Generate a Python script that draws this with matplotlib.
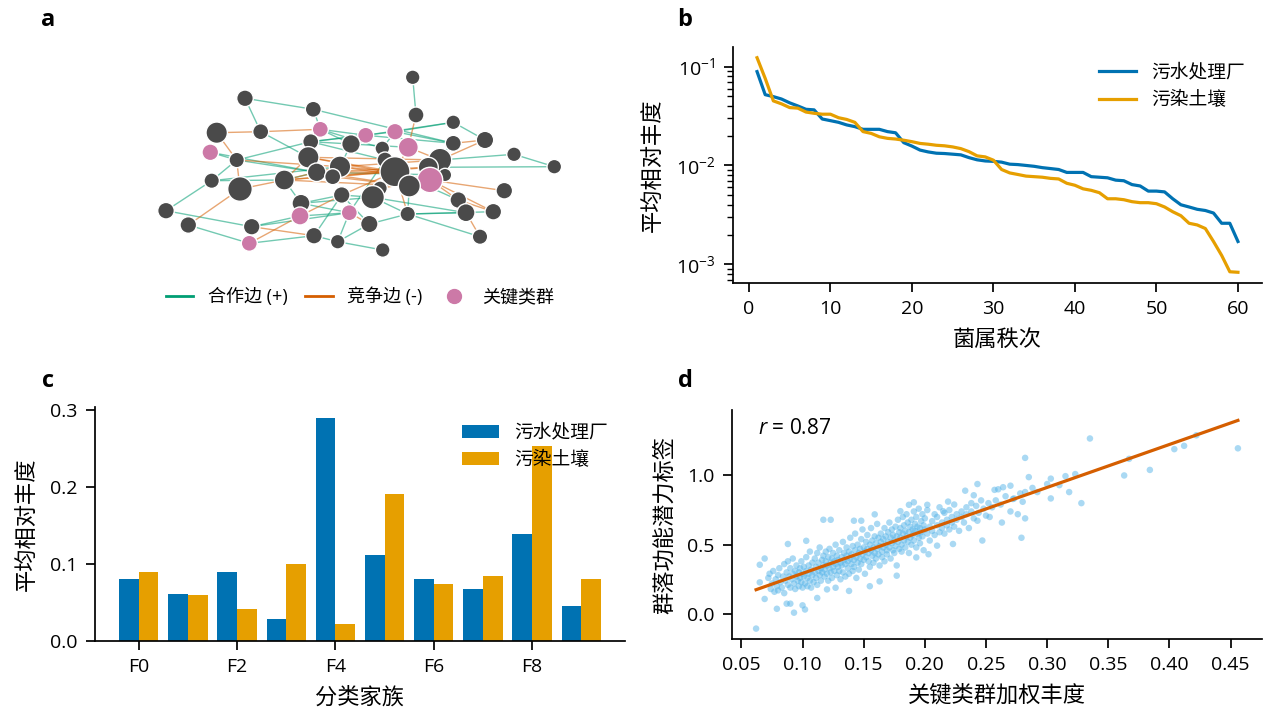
import numpy as np
import matplotlib
matplotlib.use("Agg")
import matplotlib.pyplot as plt
from matplotlib.lines import Line2D

plt.rcParams['font.family'] = ['Open Sans', 'Noto Sans CJK SC', 'DejaVu Sans']
plt.rcParams['axes.unicode_minus'] = True
plt.rcParams['mathtext.fontset'] = 'custom'
plt.rcParams['mathtext.rm'] = 'Open Sans'
plt.rcParams['mathtext.it'] = 'Open Sans:italic'
plt.rcParams['font.size'] = 14
plt.rcParams['axes.linewidth'] = 1.25
plt.rcParams['axes.labelpad'] = 8
for a in ('xtick', 'ytick'):
    plt.rcParams[a + '.major.size'] = 6.5
    plt.rcParams[a + '.major.width'] = 1.25
    plt.rcParams[a + '.minor.size'] = 4
    plt.rcParams[a + '.minor.width'] = 1.0
    plt.rcParams[a + '.major.pad'] = 6
    plt.rcParams[a + '.labelsize'] = 14

BLUE = '#0072B2'
ORANGE = '#E69F00'
SKY = '#56B4E9'
VERM = '#D55E00'
GREEN = '#009E73'
PINK = '#CC79A7'
DARK = '#4a4a4a'

# ---------------- panel a: network ----------------
node_x = [412.7, 245, 313.3, 416, 453.3, 216.7, 260.7, 320.3, 365.7, 395, 485, 210.3, 310.7, 351,
          382.3, 408.3, 453.3, 514, 554.3, 236.7, 308.3, 340, 385, 316.7, 332.7, 395, 440, 428.3,
          445, 430, 211.7, 240, 284.3, 409.3, 380, 372.7, 341.7, 504.3, 458.3, 166, 301, 300,
          349.3, 466, 493.3, 407.7, 188.3, 251.7, 369.3, 314, 480, 249.3, 337.7, 382.7]
node_y = [77.3, 98.3, 109.3, 115, 122.3, 132.7, 131.7, 129.3, 135.3, 131.7, 140, 152.3, 141.7, 144,
          148.3, 147.3, 143.3, 154.3, 166.7, 160, 157.3, 166.7, 160, 172.3, 176.7, 171.7, 160, 167.3,
          175, 180, 180.7, 189, 180, 186, 188.3, 197.3, 195, 190.7, 200, 210.7, 203.3, 216,
          212.7, 212.7, 211.7, 214, 225, 226.7, 224, 235.7, 236.7, 243.3, 241.7, 250]
node_r = [7.3, 8.3, 8, 8, 7.3, 10.7, 8, 8, 8, 8.3, 8.7, 8.3, 8, 9.3, 7.3, 10, 8, 7.3, 7.3, 7.7,
          10.7, 10.7, 8, 9.3, 8, 15, 11.7, 10, 6.7, 12.7, 7.7, 12.3, 10, 11, 7.3, 11.7, 8.3, 8.3,
          8.3, 8.3, 9, 9, 8, 9, 8.3, 7.7, 8.3, 8.3, 8.7, 8.3, 7.7, 8, 7.3, 7.3]
key_nodes = [8, 9, 10, 12, 16, 30, 42, 43, 52]
coop_edges = [(1, 4), (2, 3), (2, 7), (3, 17), (5, 10), (5, 11), (5, 9), (10, 17), (18, 19), (18, 27),
              (19, 28), (12, 20), (7, 21), (20, 31), (20, 13), (20, 24), (31, 33), (31, 40), (33, 41),
              (40, 48), (47, 52), (48, 42), (48, 43), (52, 50), (50, 53), (50, 37), (53, 43), (53, 49),
              (53, 54), (49, 46), (46, 44), (46, 45), (46, 51), (46, 36), (41, 37), (41, 36), (37, 36),
              (43, 23), (13, 9), (13, 14), (13, 10), (8, 9), (8, 14), (14, 16), (15, 23), (35, 36),
              (12, 24), (8, 15), (9, 17), (10, 15), (22, 14), (24, 29), (21, 8), (34, 46), (36, 44),
              (26, 39), (41, 43), (42, 43), (29, 27), (28, 17), (23, 13), (33, 24), (31, 22), (37, 49),
              (3, 8)]
comp_edges = [(4, 16), (27, 11), (6, 7), (7, 8), (6, 20), (20, 32), (20, 22), (32, 47), (32, 33),
              (33, 22), (33, 26), (33, 21), (52, 42), (48, 50), (44, 51), (39, 45), (30, 38), (30, 39),
              (30, 45), (42, 37), (49, 43), (16, 26), (16, 27), (22, 26), (24, 26), (21, 26), (21, 30),
              (34, 30), (24, 28), (22, 30), (25, 34), (33, 28), (22, 27), (24, 34), (37, 26), (46, 26),
              (33, 34), (21, 27), (25, 26), (35, 30), (17, 11)]
legend_a = ['合作边 (+)', '竞争边 (-)', '关键类群']

# ---------------- panel b: rank abundance ----------------
rank = list(range(1, 61))
rank_wwtp = [0.089, 0.052, 0.0497, 0.047, 0.043, 0.040, 0.037, 0.0365, 0.0295, 0.0284,
             0.0273, 0.0257, 0.0247, 0.0232, 0.0232, 0.0232, 0.022, 0.0214, 0.017, 0.0157,
             0.0143, 0.0137, 0.0133, 0.0132, 0.013, 0.0128, 0.012, 0.0114, 0.0111, 0.011,
             0.0108, 0.0103, 0.0102, 0.010, 0.0098, 0.0095, 0.0093, 0.0091, 0.0085, 0.0085,
             0.0085, 0.0077, 0.0076, 0.0075, 0.0071, 0.0070, 0.0064, 0.0062, 0.0055, 0.0055,
             0.0054, 0.0046, 0.0040, 0.0038, 0.0036, 0.0035, 0.0033, 0.0026, 0.0026, 0.0017]
rank_soil = [0.123, 0.076, 0.045, 0.042, 0.0385, 0.038, 0.0347, 0.0337, 0.033, 0.033,
             0.0304, 0.0292, 0.0273, 0.022, 0.0211, 0.0195, 0.0188, 0.0185, 0.018, 0.0174,
             0.0167, 0.0164, 0.016, 0.0158, 0.0154, 0.0148, 0.0138, 0.0125, 0.0122, 0.0113,
             0.0091, 0.0084, 0.0081, 0.0078, 0.0077, 0.0076, 0.0074, 0.0073, 0.0066, 0.0063,
             0.0058, 0.0056, 0.0053, 0.0046, 0.0046, 0.0045, 0.0043, 0.0042, 0.0042, 0.0041,
             0.0038, 0.0034, 0.0031, 0.0026, 0.0025, 0.0023, 0.0017, 0.00123, 0.00084, 0.00083]
series_names = ['污水处理厂', '污染土壤']

# ---------------- panel c: family bars ----------------
families = ['F0', 'F1', 'F2', 'F3', 'F4', 'F5', 'F6', 'F7', 'F8', 'F9']
fam_wwtp = [0.081, 0.061, 0.090, 0.029, 0.289, 0.111, 0.080, 0.067, 0.139, 0.046]
fam_soil = [0.089, 0.060, 0.042, 0.100, 0.022, 0.190, 0.074, 0.084, 0.253, 0.080]

# ---------------- panel d: scatter ----------------
pts = [
    # outliers / sparse region
    (0.062, -0.106), (0.335, 1.267), (0.456, 1.196), (0.422, 1.29), (0.412, 1.214), (0.404, 1.19),
    (0.384, 1.04), (0.363, 1.0), (0.367, 1.12), (0.328, 0.80), (0.318, 0.88), (0.323, 1.01),
    (0.315, 0.995), (0.303, 0.977), (0.303, 0.834), (0.300, 0.938), (0.310, 0.93), (0.282, 1.127),
    (0.285, 0.988), (0.279, 0.55), (0.282, 0.69), (0.276, 0.72), (0.270, 0.74), (0.263, 0.66),
    (0.270, 0.926), (0.264, 0.915), (0.260, 0.90), (0.257, 0.896), (0.253, 0.70), (0.247, 0.53),
    (0.243, 0.938), (0.233, 0.89), (0.240, 0.857), (0.223, 0.505), (0.243, 0.673), (0.282, 0.88),
    (0.292, 0.88), (0.273, 0.834), (0.280, 0.81),
    (0.065, 0.355), (0.069, 0.40), (0.065, 0.228), (0.069, 0.108), (0.073, 0.29), (0.079, 0.037),
    (0.087, 0.074), (0.093, 0.009), (0.090, 0.074), (0.100, 0.062), (0.102, 0.032), (0.112, 0.115),
    (0.088, 0.505), (0.103, 0.528), (0.117, 0.68), (0.123, 0.68), (0.142, 0.673), (0.148, 0.673),
    (0.159, 0.719), (0.138, 0.166), (0.155, 0.20), (0.163, 0.235), (0.177, 0.276), (0.120, 0.177),
    (0.127, 0.189), (0.180, 0.742), (0.187, 0.788), (0.191, 0.806), (0.202, 0.788), (0.193, 0.408),
    (0.203, 0.431), (0.210, 0.493), (0.219, 0.811), (0.215, 0.742),
    # x 0.07-0.085
    (0.072, 0.26), (0.074, 0.18), (0.075, 0.22), (0.076, 0.31), (0.077, 0.16), (0.078, 0.25),
    (0.079, 0.20), (0.080, 0.28), (0.080, 0.17), (0.081, 0.33), (0.082, 0.23), (0.083, 0.19),
    (0.084, 0.27), (0.085, 0.36), (0.085, 0.15),
    # x 0.085-0.11
    (0.086, 0.24), (0.087, 0.30), (0.088, 0.21), (0.088, 0.38), (0.089, 0.27), (0.090, 0.33),
    (0.090, 0.19), (0.091, 0.25), (0.092, 0.29), (0.092, 0.40), (0.093, 0.22), (0.094, 0.31),
    (0.094, 0.18), (0.095, 0.27), (0.095, 0.35), (0.096, 0.24), (0.097, 0.30), (0.097, 0.20),
    (0.098, 0.33), (0.098, 0.26), (0.099, 0.38), (0.099, 0.23), (0.100, 0.29), (0.100, 0.19),
    (0.101, 0.34), (0.101, 0.27), (0.102, 0.22), (0.103, 0.31), (0.103, 0.41), (0.104, 0.26),
    (0.104, 0.20), (0.105, 0.35), (0.105, 0.29), (0.106, 0.24), (0.106, 0.45), (0.107, 0.32),
    (0.107, 0.19), (0.108, 0.28), (0.108, 0.37), (0.109, 0.23),
    # x 0.11-0.145
    (0.110, 0.30), (0.110, 0.40), (0.111, 0.26), (0.111, 0.34), (0.112, 0.21), (0.112, 0.44),
    (0.113, 0.31), (0.113, 0.37), (0.114, 0.28), (0.114, 0.48), (0.115, 0.33), (0.115, 0.24),
    (0.116, 0.39), (0.116, 0.30), (0.117, 0.35), (0.117, 0.42), (0.118, 0.27), (0.118, 0.32),
    (0.119, 0.45), (0.119, 0.38), (0.120, 0.29), (0.120, 0.35), (0.121, 0.41), (0.121, 0.24),
    (0.122, 0.33), (0.122, 0.47), (0.123, 0.37), (0.123, 0.30), (0.124, 0.40), (0.124, 0.26),
    (0.125, 0.34), (0.125, 0.44), (0.126, 0.38), (0.126, 0.31), (0.127, 0.50), (0.127, 0.36),
    (0.128, 0.28), (0.128, 0.42), (0.129, 0.34), (0.129, 0.39), (0.130, 0.46), (0.130, 0.31),
    (0.131, 0.37), (0.131, 0.25), (0.132, 0.41), (0.132, 0.35), (0.133, 0.52), (0.133, 0.30),
    (0.134, 0.39), (0.134, 0.44), (0.135, 0.36), (0.135, 0.27), (0.136, 0.42), (0.136, 0.48),
    (0.137, 0.33), (0.137, 0.38), (0.138, 0.45), (0.138, 0.29), (0.139, 0.40), (0.139, 0.55),
    (0.140, 0.36), (0.140, 0.43), (0.141, 0.31), (0.141, 0.49), (0.142, 0.39), (0.142, 0.34),
    (0.143, 0.46), (0.143, 0.58), (0.144, 0.41), (0.144, 0.26),
    # x 0.145-0.18
    (0.145, 0.37), (0.145, 0.50), (0.146, 0.44), (0.146, 0.32), (0.147, 0.47), (0.147, 0.40),
    (0.148, 0.54), (0.148, 0.36), (0.149, 0.43), (0.149, 0.61), (0.150, 0.39), (0.150, 0.48),
    (0.151, 0.45), (0.151, 0.29), (0.152, 0.52), (0.152, 0.41), (0.153, 0.47), (0.153, 0.57),
    (0.154, 0.38), (0.154, 0.44), (0.155, 0.50), (0.155, 0.34), (0.156, 0.46), (0.156, 0.62),
    (0.157, 0.42), (0.157, 0.53), (0.158, 0.48), (0.158, 0.37), (0.159, 0.56), (0.159, 0.44),
    (0.160, 0.51), (0.160, 0.40), (0.161, 0.47), (0.161, 0.65), (0.162, 0.43), (0.162, 0.55),
    (0.163, 0.49), (0.163, 0.35), (0.164, 0.52), (0.164, 0.58), (0.165, 0.45), (0.165, 0.41),
    (0.166, 0.54), (0.166, 0.48), (0.167, 0.62), (0.167, 0.38), (0.168, 0.50), (0.168, 0.56),
    (0.169, 0.46), (0.169, 0.43), (0.170, 0.59), (0.170, 0.52), (0.171, 0.48), (0.171, 0.66),
    (0.172, 0.40), (0.172, 0.55), (0.173, 0.51), (0.173, 0.61), (0.174, 0.46), (0.174, 0.57),
    (0.175, 0.53), (0.175, 0.44), (0.176, 0.63), (0.176, 0.49), (0.177, 0.56), (0.177, 0.35),
    (0.178, 0.52), (0.178, 0.68), (0.179, 0.47), (0.179, 0.59),
    # x 0.18-0.21
    (0.180, 0.55), (0.180, 0.62), (0.181, 0.50), (0.181, 0.45), (0.182, 0.58), (0.182, 0.70),
    (0.183, 0.53), (0.183, 0.64), (0.184, 0.48), (0.184, 0.60), (0.185, 0.56), (0.185, 0.72),
    (0.186, 0.52), (0.186, 0.66), (0.187, 0.59), (0.187, 0.44), (0.188, 0.63), (0.188, 0.55),
    (0.189, 0.68), (0.189, 0.50), (0.190, 0.61), (0.190, 0.57), (0.191, 0.74), (0.191, 0.53),
    (0.192, 0.65), (0.192, 0.60), (0.193, 0.48), (0.193, 0.70), (0.194, 0.58), (0.194, 0.63),
    (0.195, 0.55), (0.195, 0.76), (0.196, 0.62), (0.196, 0.51), (0.197, 0.67), (0.197, 0.59),
    (0.198, 0.72), (0.198, 0.56), (0.199, 0.64), (0.199, 0.46), (0.200, 0.61), (0.200, 0.69),
    (0.202, 0.58), (0.202, 0.75), (0.204, 0.63), (0.204, 0.53), (0.206, 0.67), (0.206, 0.60),
    (0.208, 0.72), (0.208, 0.57),
    # x 0.21-0.26
    (0.210, 0.64), (0.210, 0.70), (0.212, 0.59), (0.212, 0.77), (0.214, 0.66), (0.214, 0.62),
    (0.216, 0.73), (0.216, 0.58), (0.218, 0.68), (0.218, 0.64), (0.220, 0.75), (0.220, 0.61),
    (0.222, 0.70), (0.222, 0.66), (0.224, 0.79), (0.224, 0.63), (0.226, 0.72), (0.226, 0.68),
    (0.228, 0.60), (0.230, 0.74), (0.230, 0.70), (0.232, 0.66), (0.234, 0.77), (0.234, 0.72),
    (0.236, 0.62), (0.238, 0.80), (0.238, 0.74), (0.240, 0.69), (0.242, 0.78), (0.244, 0.73),
    (0.246, 0.82), (0.248, 0.76), (0.250, 0.71), (0.252, 0.80), (0.255, 0.77),
    (0.258, 0.82), (0.262, 0.79), (0.266, 0.85), (0.272, 0.83), (0.278, 0.87), (0.288, 0.91),
]
key_abund = [p[0] for p in pts]
func_score = [p[1] for p in pts]

# ================= figure =================
W, H = 1280, 719
fig = plt.figure(figsize=(W / 100, H / 100), dpi=100)


def box(l, r, t, b):
    return [l / W, 1 - b / H, (r - l) / W, (b - t) / H]


# ---- a ----
ax_a = fig.add_axes(box(140, 580, 60, 260))
ax_a.set_xlim(140, 580)
ax_a.set_ylim(260, 60)
ax_a.axis('off')
for (i, j) in coop_edges:
    ax_a.plot([node_x[i - 1], node_x[j - 1]], [node_y[i - 1], node_y[j - 1]],
              color=GREEN, lw=1.0, alpha=0.55, zorder=1, solid_capstyle='round')
for (i, j) in comp_edges:
    ax_a.plot([node_x[i - 1], node_x[j - 1]], [node_y[i - 1], node_y[j - 1]],
              color=VERM, lw=1.0, alpha=0.55, zorder=1, solid_capstyle='round')
cols = [PINK if (k + 1) in key_nodes else DARK for k in range(len(node_x))]
sizes = [(2 * r * 0.72) ** 2 for r in node_r]
ax_a.scatter(node_x, node_y, s=sizes, c=cols, edgecolors='white', linewidths=1.0, zorder=3)
handles = [Line2D([], [], color=GREEN, lw=2),
           Line2D([], [], color=VERM, lw=2),
           Line2D([], [], marker='o', ls='none', markerfacecolor=PINK, markeredgecolor=PINK,
                  markersize=10)]
ax_a.legend(handles, legend_a, loc='center', bbox_to_anchor=(0.5, -0.185), ncol=3,
            frameon=False, fontsize=13, handlelength=1.5, columnspacing=1.0, handletextpad=0.8)

# ---- b ----
ax_b = fig.add_axes(box(733, 1262, 47, 283))
ax_b.plot(rank, rank_wwtp, color=BLUE, lw=2.3, label=series_names[0])
ax_b.plot(rank, rank_soil, color=ORANGE, lw=2.3, label=series_names[1])
ax_b.set_yscale('log')
ax_b.set_xlabel('菌属秩次', fontsize=16)
ax_b.set_ylabel('平均相对丰度', fontsize=16)
ax_b.legend(frameon=False, fontsize=13.5, loc='upper right')
ax_b.set_xticks([0, 10, 20, 30, 40, 50, 60])

# ---- c ----
ax_c = fig.add_axes(box(95, 625, 407, 641))
xs = np.arange(len(families))
ax_c.bar(xs - 0.2, fam_wwtp, width=0.4, color=BLUE, label=series_names[0])
ax_c.bar(xs + 0.2, fam_soil, width=0.4, color=ORANGE, label=series_names[1])
ax_c.set_xticks(xs[::2])
ax_c.set_xticklabels(families[::2])
ax_c.set_yticks([0.0, 0.1, 0.2, 0.3])
ax_c.set_xlabel('分类家族', fontsize=16)
ax_c.set_ylabel('平均相对丰度', fontsize=16)
ax_c.legend(frameon=False, fontsize=13.5, loc='upper right')

# ---- d ----
ax_d = fig.add_axes(box(732, 1262, 410, 639))
ax_d.scatter(key_abund, func_score, s=22, color=SKY, alpha=0.5, edgecolors='none')
coef = np.polyfit(key_abund, func_score, 1)
xl = np.array([min(key_abund), max(key_abund)])
ax_d.plot(xl, np.polyval(coef, xl), color=VERM, lw=2.3)
ax_d.text(0.05, 0.965, '$r$ = 0.87', transform=ax_d.transAxes, fontsize=15, va='top')
ax_d.set_xticks([0.05, 0.10, 0.15, 0.20, 0.25, 0.30, 0.35, 0.40, 0.45])
ax_d.set_xticklabels(['0.05', '0.10', '0.15', '0.20', '0.25', '0.30', '0.35', '0.40', '0.45'])
ax_d.set_yticks([0.0, 0.5, 1.0])
ax_d.set_xlabel('关键类群加权丰度', fontsize=16)
ax_d.set_ylabel('群落功能潜力标签', fontsize=16)

for ax in (ax_b, ax_c, ax_d):
    ax.spines['top'].set_visible(False)
    ax.spines['right'].set_visible(False)

for lab, x, y in [('a', 48, 20), ('b', 685, 20), ('c', 48, 381), ('d', 685, 381)]:
    fig.text(x / W, 1 - y / H, lab, fontsize=17, fontweight='bold', ha='center', va='center')

fig.savefig('out.png', dpi=100)
